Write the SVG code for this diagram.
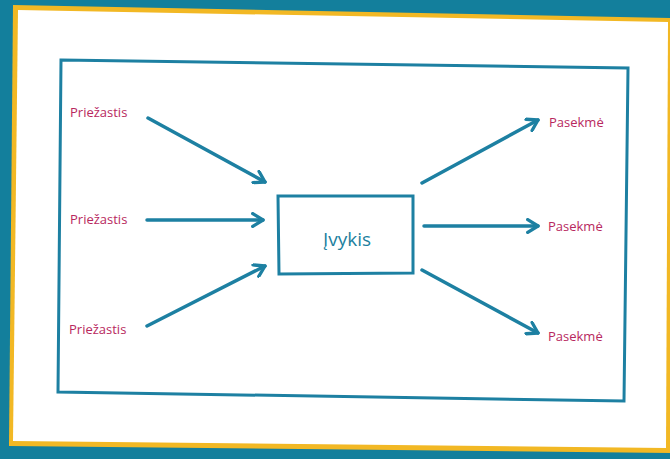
<svg xmlns="http://www.w3.org/2000/svg" width="670" height="459" viewBox="0 0 670 459">
<defs>
<style>
.lbl{font-family:"Open Sans","Liberation Sans",sans-serif;font-size:13px;fill:#b8285e}
.ev{font-family:"Open Sans","Liberation Sans",sans-serif;font-size:19px;fill:#1d7f9e}
.ln{stroke:#1d80a2;stroke-width:3.5;fill:none;stroke-linecap:round}
</style>
<marker id="ah" viewBox="0 0 12 12" refX="10" refY="6" markerWidth="4.4" markerHeight="4.4" orient="auto" markerUnits="strokeWidth">
<path d="M2,1 L10,6 L2,11" fill="none" stroke="#1d80a2" stroke-width="2.6" stroke-linecap="round" stroke-linejoin="round"/>
</marker>
</defs>
<rect x="0" y="0" width="670" height="459" fill="#137f9c"/>
<polygon points="13,5 670,18 670,453 9,446" fill="#f2b824"/>
<polygon points="18,10 668,22 666,448 13,441" fill="#ffffff"/>
<polygon points="61,60 628,68 624,401 58,392" fill="none" stroke="#1d80a2" stroke-width="3"/>
<g id="connectors">
<line class="ln" x1="148" y1="118" x2="265" y2="182" marker-end="url(#ah)"/>
<line class="ln" x1="147" y1="220" x2="263" y2="220" marker-end="url(#ah)"/>
<line class="ln" x1="147" y1="326" x2="265" y2="266" marker-end="url(#ah)"/>
<line class="ln" x1="422" y1="183" x2="538" y2="120" marker-end="url(#ah)"/>
<line class="ln" x1="424" y1="226" x2="538" y2="226" marker-end="url(#ah)"/>
<line class="ln" x1="422" y1="270" x2="538" y2="333" marker-end="url(#ah)"/>
</g>
<g id="event">
<polygon points="278,196 413,196 413,273 279,274" fill="none" stroke="#1d80a2" stroke-width="3"/>
<text class="ev" x="347" y="246" text-anchor="middle">Įvykis</text>
</g>
<g id="cause1"><text class="lbl" x="70" y="117">Priežastis</text></g>
<g id="cause2"><text class="lbl" x="70" y="224">Priežastis</text></g>
<g id="cause3"><text class="lbl" x="69" y="334">Priežastis</text></g>
<g id="effect1"><text class="lbl" x="549" y="127">Pasekmė</text></g>
<g id="effect2"><text class="lbl" x="548" y="231">Pasekmė</text></g>
<g id="effect3"><text class="lbl" x="548" y="341">Pasekmė</text></g>
</svg>
